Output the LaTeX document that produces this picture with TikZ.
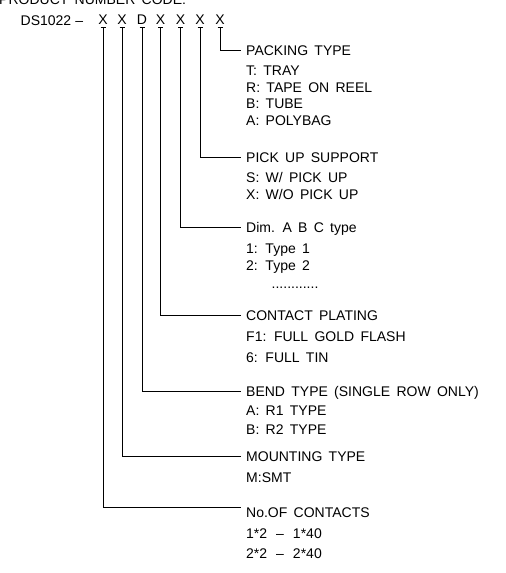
\documentclass[tikz,border=0pt]{standalone}
\usepackage{fontspec}
\setmainfont{Liberation Sans}

\newcommand\cadtext{\fontsize{14}{16}\selectfont\spaceskip=0.45em\relax}

\tikzset{
    cadfont/.style={font=\cadtext},
    lbl/.style={cadfont,anchor=west,inner xsep=5pt,inner ysep=0pt,text height=10pt,text depth=0pt},
    digit/.style={cadfont,inner sep=0pt,text height=10pt,text depth=0pt},
    lead/.style={line width=0.8pt}
}

\begin{document}
\begin{tikzpicture}[x=1pt,y=-1pt]
            \useasboundingbox (0,0) rectangle (506,573);

            \node[cadfont,inner sep=0pt,anchor=base west] (title) at (-1,4) {PRODUCT NUMBER CODE:};
            \node[cadfont,inner sep=0pt,anchor=base west] (pn) at (20.5,25) {DS1022{\kern4pt}–};

            \node[digit] (d1) at (103,19.5) {X};
            \node[digit] (d2) at (122,19.5) {X};
            \node[digit] (d3) at (142,19.5) {D};
            \node[digit] (d4) at (160.5,19.5) {X};
            \node[digit] (d5) at (180.5,19.5) {X};
            \node[digit] (d6) at (200,19.5) {X};
            \node[digit] (d7) at (220,19.5) {X};

            \foreach \i in {1,...,7}
                \coordinate (t\i) at ([yshift=-3pt]d\i.south);

            \node[lbl] (pack) at (241,50) {PACKING TYPE};
            \node[lbl] (pack1) at (241,70.5) {T: TRAY};
            \node[lbl] (pack2) at (241,87) {R: TAPE ON REEL};
            \node[lbl] (pack3) at (241,103.5) {B: TUBE};
            \node[lbl] (pack4) at (241,120.3) {A: POLYBAG};

            \node[lbl] (pick) at (241,157) {PICK UP SUPPORT};
            \node[lbl] (pick1) at (241,177) {S: W/ PICK UP};
            \node[lbl] (pick2) at (241,194.7) {X: W/O PICK UP};

            \node[lbl] (dim) at (241,227) {Dim. A B C type};
            \node[lbl] (dim1) at (241,248) {1: Type 1};
            \node[lbl] (dim2) at (241,265.5) {2: Type 2};
            \node[lbl] (dim3) at (266.5,283) {............};

            \node[lbl] (plat) at (241,315) {CONTACT PLATING};
            \node[lbl] (plat1) at (241,336) {F1: FULL GOLD FLASH};
            \node[lbl] (plat2) at (241,357) {6: FULL TIN};

            \node[lbl] (bend) at (241,391.5) {BEND TYPE (SINGLE ROW ONLY)};
            \node[lbl] (bend1) at (241,410.5) {A: R1 TYPE};
            \node[lbl] (bend2) at (241,429) {B: R2 TYPE};

            \node[lbl] (mount) at (241,456) {MOUNTING TYPE};
            \node[lbl] (mount1) at (241,477) {M:SMT};

            \node[lbl,anchor=north west] (cont) at (241,507) {No.OF CONTACTS};
            \node[lbl] (cont1) at (241,533.5) {1*2\hspace{9pt}–\hspace{9pt}1*40};
            \node[lbl] (cont2) at (241,553.5) {2*2\hspace{9pt}–\hspace{9pt}2*40};

            \foreach \i in {1,...,7}
                \draw[lead] ([xshift=-2.5pt]t\i) -- ([xshift=2.5pt]t\i);

            \draw[lead] (t7) |- (pack.west);
            \draw[lead] (t6) |- (pick.west);
            \draw[lead] (t5) |- (dim.west);
            \draw[lead] (t4) |- (plat.west);
            \draw[lead] (t3) |- (bend.west);
            \draw[lead] (t2) |- (mount.west);
            \draw[lead] (t1) |- (cont.north west);
        \end{tikzpicture}
\end{document}
